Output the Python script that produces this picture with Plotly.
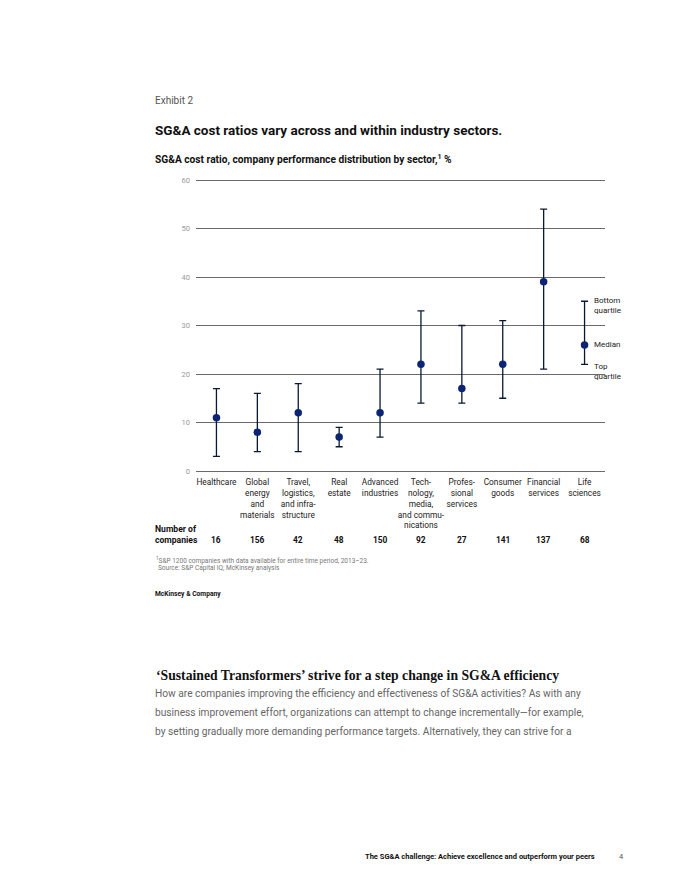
import plotly.graph_objects as go

PAGE_W, PAGE_H = 680, 880
OFF = 8  # default page body margin
W, H = PAGE_W - 2 * OFF, PAGE_H - 2 * OFF

categories = ["Healthcare", "Global<br>energy<br>and<br>materials", "Travel,<br>logistics,<br>and infra-<br>structure",
              "Real<br>estate", "Advanced<br>industries", "Tech-<br>nology,<br>media,<br>and commu-<br>nications",
              "Profes-<br>sional<br>services", "Consumer<br>goods", "Financial<br>services", "Life<br>sciences"]
median = [11, 8, 12, 7, 12, 22, 17, 22, 39, 26]
bottom_quartile = [17, 16, 18, 9, 21, 33, 30, 31, 54, 35]
top_quartile = [3, 4, 4, 5, 7, 14, 14, 15, 21, 22]
n_companies = [16, 156, 42, 48, 150, 92, 27, 141, 137, 68]
y_ticks = [0, 10, 20, 30, 40, 50, 60]

FONT = "Roboto"
NAVY = "#0c2474"
DARK = "#081a33"

def px(x):
    return (x - OFF) / W

def py(y):
    return 1 - (y - OFF) / H

fig = go.Figure()
fig.add_trace(go.Scatter(
    x=list(range(len(categories))), y=median, mode="markers",
    marker=dict(color=NAVY, size=7.5),
    error_y=dict(type="data", symmetric=False,
                 array=[b - m for b, m in zip(bottom_quartile, median)],
                 arrayminus=[m - t for m, t in zip(median, top_quartile)],
                 color=DARK, thickness=1.3, width=3.5),
    showlegend=False, hoverinfo="skip"))

anns = []
def txt(x, y, s, size, color="#222", bold=False, family=FONT, xanchor="left", yanchor="middle"):
    anns.append(dict(x=px(x), y=py(y), xref="paper", yref="paper", text=f"<b>{s}</b>" if bold else s,
                     showarrow=False, xanchor=xanchor, yanchor=yanchor, align="left",
                     font=dict(family=family, size=size, color=color)))

txt(153, 101, "Exhibit 2", 10, color="#555")
txt(153, 130, "SG&A cost ratios vary across and within industry sectors.", 13.5, color="#111", bold=True)
txt(153, 159, "SG&A cost ratio, company performance distribution by sector,<sup>1</sup> %", 10.2, color="#111", bold=True)
txt(153, 534, "Number of<br>companies", 8.6, color="#111", bold=True)
for i, n in enumerate(n_companies):
    anns.append(dict(x=i, y=py(540), xref="x", yref="paper", text=f"<b>{n}</b>", showarrow=False,
                     xanchor="center", yanchor="middle", font=dict(family=FONT, size=8.4, color="#111")))
txt(154, 560, "<sup>1</sup>S&P 1200 companies with data available for entire time period, 2013–23.", 6.5, color="#777")
txt(156, 568, "Source: S&P Capital IQ; McKinsey analysis", 6.5, color="#777")
txt(153, 594, "McKinsey & Company", 6.7, color="#111", bold=True)
txt(154, 675, "‘Sustained Transformers’ strive for a step change in SG&A efficiency", 13.7, color="#111", bold=True,
    family="Liberation Serif")
body = ["How are companies improving the efficiency and effectiveness of SG&A activities? As with any",
        "business improvement effort, organizations can attempt to change incrementally—for example,",
        "by setting gradually more demanding performance targets. Alternatively, they can strive for a"]
for k, line in enumerate(body):
    txt(153, 693 + 19 * k, line, 10.2, color="#666")
txt(597, 856, "The SG&A challenge: Achieve excellence and outperform your peers", 7.5, color="#111", bold=True, xanchor="right")
txt(621, 856, "4", 7.5, color="#555", xanchor="center")

# legend labels next to the Life sciences whisker
for label, yv in [("Bottom<br>quartile", 34.2), ("Median", 26), ("Top<br>quartile", 20.6)]:
    anns.append(dict(x=9, y=yv, xref="x", yref="y", text=label, showarrow=False, xanchor="left",
                     yanchor="middle", xshift=7, align="left",
                     font=dict(family=FONT, size=8, color="#222")))

PPU = (471 - 180) / 60  # pixels per unit
fig.update_layout(
    width=W, height=H, margin=dict(l=0, r=0, t=0, b=0),
    paper_bgcolor="white", plot_bgcolor="white",
    annotations=anns,
    xaxis=dict(domain=[px(196), px(605)], range=[-0.5, 9.5], tickvals=list(range(len(categories))),
               ticktext=categories, showgrid=False, zeroline=False, showline=False, ticks="",
               tickangle=0, automargin=False,
               tickfont=dict(family=FONT, size=8.3, color="#222")),
    yaxis=dict(domain=[py(471 + PPU), py(180 - PPU)], range=[-1, 61], tickvals=y_ticks, showgrid=True,
               gridcolor="#6a6a6a", gridwidth=1, zeroline=False, showline=False, ticks="",
               ticklabelstandoff=5, automargin=False,
               tickfont=dict(family=FONT, size=7.5, color="#999")),
)
fig.write_html("out.html")
